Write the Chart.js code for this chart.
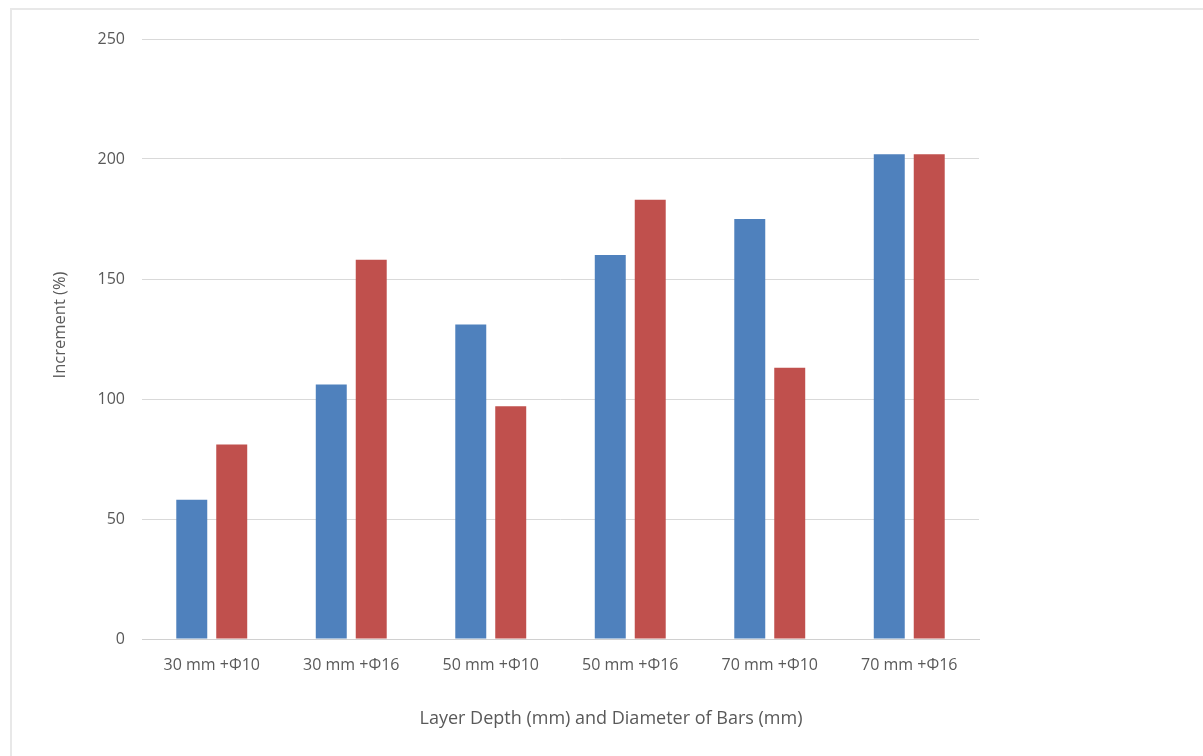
<!DOCTYPE html>
<html>
<head>
<meta charset="utf-8">
<title>Increment chart</title>
<script src="https://cdn.jsdelivr.net/npm/chart.js@4.4.1/dist/chart.umd.min.js"></script>
<style>
    html, body {
        margin: 0;
        padding: 0;
        background: #fff;
    }
    .chart-wrap {
        position: relative;
        width: 1203px;
        height: 756px;
    }
    .frame {
        position: absolute;
        left: 10px;
        top: 8px;
        right: 0;
        bottom: 0;
        border-top: 2px solid #e8e8e8;
        border-left: 2px solid #e8e8e8;
        pointer-events: none;
    }
</style>
</head>
<body>
<div class="chart-wrap">
    <div class="frame"></div>
    <canvas id="myChart" width="1203" height="756"></canvas>
</div>

<script>
    "use strict";

    // chart data
    var categories = ['30 mm +Φ10', '30 mm +Φ16', '50 mm +Φ10', '50 mm +Φ16', '70 mm +Φ10', '70 mm +Φ16'];
    var blueValues = [58, 106, 131, 160, 175, 202];
    var redValues = [81, 158, 97, 183, 113, 202];
    var yTicks = [0, 50, 100, 150, 200, 250];

    var xTitle = 'Layer Depth (mm) and Diameter of Bars (mm)';
    var yTitle = 'Increment (%)';

    var fontName = "'Open Sans', 'Noto Sans', sans-serif";
    var greyText = '#595959';

    // axis titles, placed like the excel ones (centred on the whole frame, not the plot)
    var axisTitles = {
        id: 'axisTitles',
        afterDraw: function (chart) {
            var c = chart.ctx;
            c.save();
            c.fillStyle = greyText;
            c.font = '18px ' + fontName;
            c.textAlign = 'center';
            c.textBaseline = 'middle';
            c.fillText(xTitle, 611, 719);

            c.translate(60, 325);
            c.rotate(-Math.PI / 2);
            c.font = '16.5px ' + fontName;
            c.fillText(yTitle, 0, 0);
            c.restore();
        }
    };

    // chart js
    var ctx = document.getElementById('myChart');
    if (ctx) {
        var chart = new Chart(ctx, {
            type: 'bar',
            data: {
                labels: categories,
                datasets: [{
                    label: 'Series 1',
                    backgroundColor: '#4F81BD',
                    data: blueValues
                }, {
                    label: 'Series 2',
                    backgroundColor: '#C0504D',
                    data: redValues
                }]
            },
            plugins: [axisTitles],
            options: {
                responsive: false,
                animation: false,
                layout: {
                    padding: {
                        left: 20,
                        right: 224,
                        top: 39,
                        bottom: 59
                    }
                },
                datasets: {
                    bar: {
                        categoryPercentage: 0.573,
                        barPercentage: 0.775
                    }
                },
                plugins: {
                    legend: { display: false },
                    tooltip: { enabled: false }
                },
                scales: {
                    x: {
                        grid: { display: false, drawTicks: false },
                        border: { color: '#d0d0d0', width: 1 },
                        ticks: {
                            color: greyText,
                            font: { family: fontName, size: 16 },
                            padding: 17,
                            maxRotation: 0
                        },
                        afterFit: function (scale) {
                            scale.height = 58;
                        }
                    },
                    y: {
                        min: 0,
                        max: 250,
                        afterBuildTicks: function (scale) {
                            scale.ticks = yTicks.map(function (v) {
                                return { value: v };
                            });
                        },
                        grid: { color: '#d9d9d9', drawTicks: false },
                        border: { display: false },
                        ticks: {
                            color: greyText,
                            font: { family: fontName, size: 16 },
                            padding: 17
                        },
                        afterFit: function (scale) {
                            scale.width = 122;
                        }
                    }
                }
            }
        });
    }
</script>
</body>
</html>
